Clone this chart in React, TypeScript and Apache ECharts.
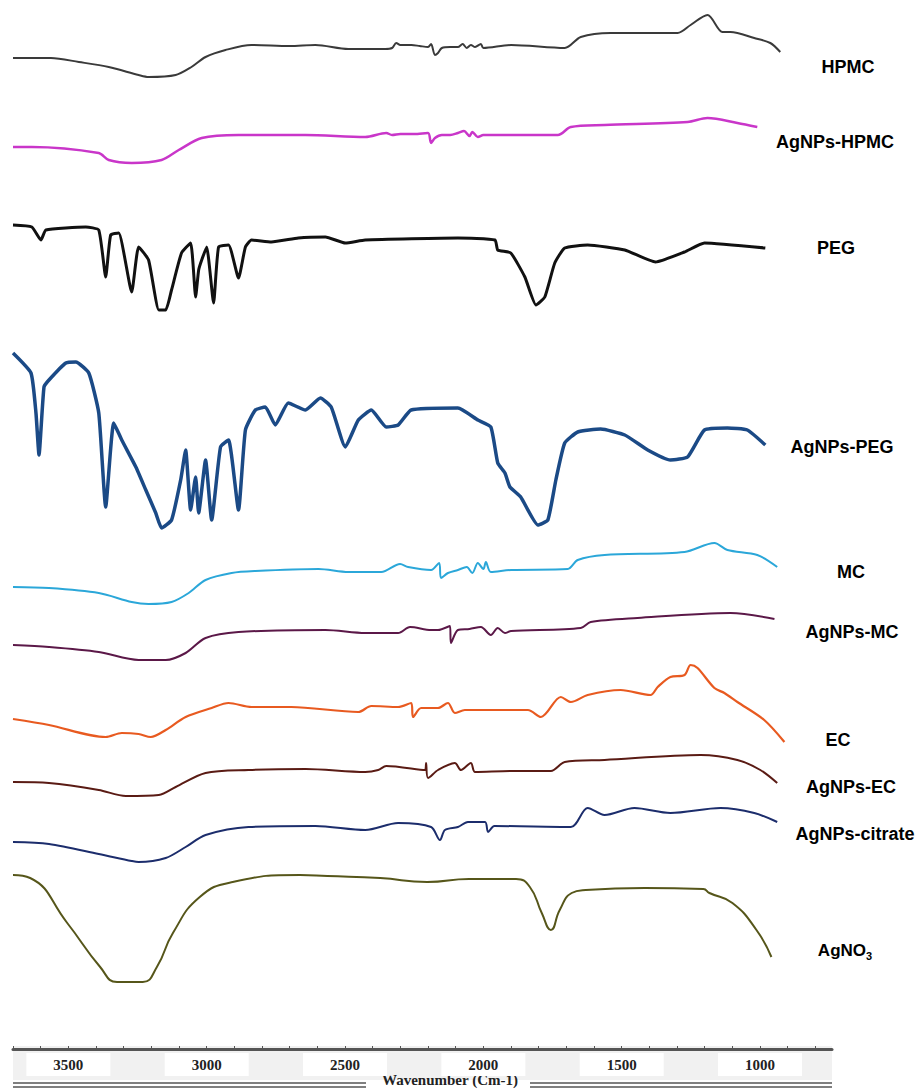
import React, { useEffect, useRef } from "react";
import * as echarts from "echarts";

// ---- axis ----
const axisLabels = [3500, 3000, 2500, 2000, 1500, 1000];
const axisTicks = [3700, 3600, 3500, 3400, 3300, 3200, 3100, 3000, 2900, 2800, 2700, 2600, 2500, 2400, 2300, 2200, 2100, 2000, 1900, 1800, 1700, 1600, 1500, 1400, 1300, 1200, 1100, 1000, 900, 800];
const axisTitle = "Wavenumber (Cm-1)";

// ---- spectra: [wavenumber, relative transmittance] ----
const hpmc = [[3700,0],[3563,0],[3462,-4],[3354,-9],[3246,-17],[3210,-19],[3112,-17],[3055,-9],[3004,1],[2932,8],[2838,13],[2700,12],[2607,13],[2488,9],[2355,9],[2330,10],[2315,15],[2300,13],[2260,13],[2230,12],[2200,11],[2189,14],[2175,3],[2164,5],[2150,10],[2120,11],[2092,11],[2075,14],[2060,10],[2045,13],[2030,11],[2009,14],[2000,10],[1900,13],[1706,10],[1648,21],[1540,25],[1298,25],[1251,33],[1190,43],[1136,26],[1107,26],[1021,20],[963,15],[927,6]];
const agHpmc = [[3700,0],[3632,0],[3390,-6],[3354,-13],[3271,-16],[3163,-13],[3101,-3],[3018,9],[2885,12],[2643,12],[2427,10],[2351,14],[2330,12],[2300,13],[2250,13],[2200,14],[2189,4],[2175,9],[2150,12],[2120,12],[2092,14],[2070,16],[2050,11],[2040,15],[2020,10],[2000,12],[1900,12],[1731,12],[1684,20],[1562,22],[1262,25],[1190,29],[1082,24],[1010,20]];
const peg = [[3700,2],[3632,0],[3599,-13],[3581,-3],[3437,0],[3390,-3],[3365,-50],[3347,-8],[3318,-6],[3271,-65],[3246,-20],[3210,-33],[3173,-83],[3148,-83],[3127,-63],[3091,-26],[3058,-16],[3040,-70],[3029,-43],[3018,-33],[3000,-20],[2975,-76],[2957,-20],[2921,-18],[2885,-51],[2860,-20],[2838,-13],[2766,-15],[2669,-11],[2571,-10],[2499,-16],[2427,-13],[2092,-11],[1958,-13],[1948,-23],[1901,-26],[1850,-50],[1810,-78],[1778,-70],[1742,-36],[1706,-21],[1623,-18],[1489,-23],[1378,-35],[1273,-25],[1201,-16],[981,-21]];
const agPeg = [[3700,0],[3635,-20],[3617,-60],[3606,-102],[3588,-34],[3570,-27],[3509,-10],[3473,-9],[3426,-20],[3390,-60],[3365,-154],[3336,-70],[3307,-87],[3256,-114],[3220,-137],[3184,-160],[3163,-175],[3127,-167],[3094,-127],[3076,-97],[3058,-157],[3040,-124],[3029,-160],[3004,-107],[2982,-167],[2950,-94],[2921,-87],[2885,-157],[2860,-77],[2824,-57],[2788,-54],[2752,-72],[2705,-50],[2643,-57],[2589,-45],[2550,-54],[2499,-94],[2452,-67],[2405,-57],[2351,-74],[2308,-72],[2261,-57],[2092,-55],[2020,-67],[1973,-74],[1948,-110],[1922,-120],[1904,-134],[1865,-144],[1803,-172],[1767,-167],[1738,-127],[1706,-90],[1659,-79],[1576,-76],[1489,-82],[1406,-97],[1324,-107],[1262,-104],[1201,-77],[1118,-75],[1046,-77],[981,-92]];
const mc = [[3700,0],[3570,-1],[3390,-6],[3271,-15],[3210,-17],[3127,-15],[3065,-6],[3004,7],[2910,14],[2824,16],[2596,18],[2488,15],[2369,15],[2301,23],[2272,20],[2189,17],[2160,24],[2153,9],[2128,14],[2092,17],[2060,20],[2040,14],[2020,24],[2000,18],[1991,25],[1973,15],[1900,17],[1695,18],[1659,27],[1562,32],[1273,35],[1165,44],[1118,37],[1010,32],[938,20]];
const agMc = [[3700,0],[3570,-2],[3390,-7],[3246,-15],[3148,-15],[3076,-8],[3004,7],[2885,13],[2571,15],[2427,12],[2308,12],[2265,18],[2189,15],[2164,15],[2121,19],[2117,2],[2092,15],[2050,16],[2009,18],[1973,10],[1948,17],[1922,12],[1900,14],[1648,17],[1612,23],[1443,27],[1107,32],[948,26]];
const ec = [[3700,0],[3570,-6],[3365,-18],[3307,-14],[3246,-15],[3202,-18],[3148,-11],[3076,2],[2982,11],[2921,16],[2838,12],[2694,12],[2452,7],[2405,13],[2308,12],[2261,16],[2254,2],[2225,11],[2164,11],[2128,16],[2103,6],[2067,9],[1839,9],[1792,2],[1720,22],[1684,17],[1623,24],[1504,29],[1396,24],[1370,32],[1324,42],[1273,44],[1251,54],[1226,51],[1165,31],[1129,26],[1082,17],[985,-1],[912,-23]];
const agEc = [[3700,0],[3570,-1],[3390,-8],[3292,-14],[3173,-13],[3112,-5],[3004,9],[2849,12],[2643,13],[2427,10],[2380,12],[2351,16],[2211,12],[2207,19],[2200,4],[2164,12],[2103,19],[2081,12],[2045,19],[2030,10],[1900,11],[1756,11],[1706,20],[1562,22],[1215,27],[1082,22],[999,12],[938,-1]];
const agCitrate = [[3700,0],[3570,-2],[3390,-12],[3271,-19],[3246,-20],[3148,-16],[3076,-5],[3004,7],[2849,15],[2607,16],[2427,12],[2308,19],[2189,15],[2157,2],[2139,12],[2092,15],[2056,20],[1994,20],[1983,10],[1960,16],[1684,15],[1623,34],[1562,27],[1454,34],[1324,29],[1143,34],[1021,29],[938,20]];
const agno3 = [[3700,1],[3638,-2],[3504,-47],[3385,-91],[3324,-106],[3231,-106],[3180,-91],[3122,-57],[3025,-21],[2906,-6],[2663,1],[2564,0],[2373,-2],[2203,-6],[2052,-3],[1882,-3],[1832,-11],[1789,-37],[1756,-54],[1724,-34],[1681,-17],[1630,-14],[1417,-12],[1205,-13],[1183,-17],[1100,-27],[1013,-54],[959,-81]];

const names = ["HPMC", "AgNPs-HPMC", "PEG", "AgNPs-PEG", "MC", "AgNPs-MC", "EC", "AgNPs-EC", "AgNPs-citrate", "AgNO3"];
const spectra = [hpmc, agHpmc, peg, agPeg, mc, agMc, ec, agEc, agCitrate, agno3];
const offsets = [991, 902, 822, 696, 462, 404, 330, 267, 207, 173];
const colors = ["#3a3a3a", "#c936c9", "#111111", "#1b4a86", "#2ba7d9", "#5b1848", "#e85a20", "#5a1b14", "#1c2d6c", "#56561a"];
const widths = [2, 2.5, 3, 3.5, 2, 2, 2.2, 2, 2, 2];
const smooths = [0.3, 0.3, 0.15, 0.15, 0.3, 0.3, 0.3, 0.3, 0.3, 0.5];
const labelPos = [[848, 67], [835, 142], [836, 248], [842, 447], [851, 572], [852, 632], [838, 740], [851, 787], [855, 834], [845, 950]];

export default function App() {
  const ref = useRef<HTMLDivElement>(null);
  useEffect(() => {
    const chart = echarts.init(ref.current as HTMLDivElement, null, { renderer: "svg" });
    const series = spectra.map((d, i) => ({
      type: "line",
      name: names[i],
      data: d.map(([w, t]) => [w, offsets[i] + t]),
      showSymbol: false,
      smooth: smooths[i],
      lineStyle: { color: colors[i], width: widths[i], join: "round" },
      itemStyle: { color: colors[i] },
      z: 5,
    }));
    const labels = names.map((n, i) => {
      if (n === "AgNO3") {
        return {
          type: "text",
          x: labelPos[i][0],
          y: labelPos[i][1],
          style: {
            text: "{a|AgNO}{b|3}",
            align: "center",
            verticalAlign: "middle",
            rich: {
              a: { fontSize: 17, fontWeight: "bold", fontFamily: "Liberation Sans", fill: "#000", lineHeight: 22 },
              b: { fontSize: 11, fontWeight: "bold", fontFamily: "Liberation Sans", fill: "#000", lineHeight: 11, verticalAlign: "bottom" },
            },
          },
        };
      }
      return {
        type: "text",
        x: labelPos[i][0],
        y: labelPos[i][1],
        style: {
          text: n,
          align: "center",
          verticalAlign: "middle",
          fontSize: 18,
          fontWeight: "bold",
          fontFamily: "Liberation Sans",
          fill: "#000",
        },
      };
    });
    chart.setOption({
      animation: false,
      backgroundColor: "#ffffff",
      grid: { left: 13, right: 86, top: 0, bottom: 40 },
      xAxis: {
        type: "value",
        inverse: true,
        min: 740,
        max: 3700,
        splitLine: { show: false },
        axisLine: { show: true, lineStyle: { color: "#555", width: 3 } },
        axisTick: { show: true, inside: true, length: 3, customValues: axisTicks, lineStyle: { color: "#555", width: 1 } },
        axisLabel: {
          customValues: axisLabels,
          formatter: (v: number) => String(v),
          margin: 4,
          fontFamily: "Liberation Serif",
          fontWeight: "bold",
          fontSize: 15,
          color: "#222",
          backgroundColor: "#ffffff",
          padding: [4, 27, 4, 27],
        },
      },
      yAxis: { type: "value", min: 0, max: 1049, show: false },
      graphic: [
        { type: "rect", z: -10, shape: { x: 13, y: 1046, width: 819, height: 34 }, style: { fill: "#f1f1f1" } },
        { type: "line", shape: { x1: 13, y1: 1083, x2: 366, y2: 1083 }, style: { stroke: "#555", lineWidth: 1.5 } },
        { type: "line", shape: { x1: 13, y1: 1087, x2: 366, y2: 1087 }, style: { stroke: "#555", lineWidth: 1.5 } },
        { type: "line", shape: { x1: 530, y1: 1083, x2: 832, y2: 1083 }, style: { stroke: "#555", lineWidth: 1.5 } },
        { type: "line", shape: { x1: 530, y1: 1087, x2: 832, y2: 1087 }, style: { stroke: "#555", lineWidth: 1.5 } },
        {
          type: "text",
          x: 450,
          y: 1080,
          style: { text: axisTitle, align: "center", verticalAlign: "middle", fontSize: 15, fontWeight: "bold", fontFamily: "Liberation Serif", fill: "#222" },
        },
        ...labels,
      ],
      series,
    });
    return () => chart.dispose();
  }, []);
  return <div ref={ref} style={{ position: "absolute", left: 0, top: 0, width: 918, height: 1089, background: "#fff" }} />;
}
